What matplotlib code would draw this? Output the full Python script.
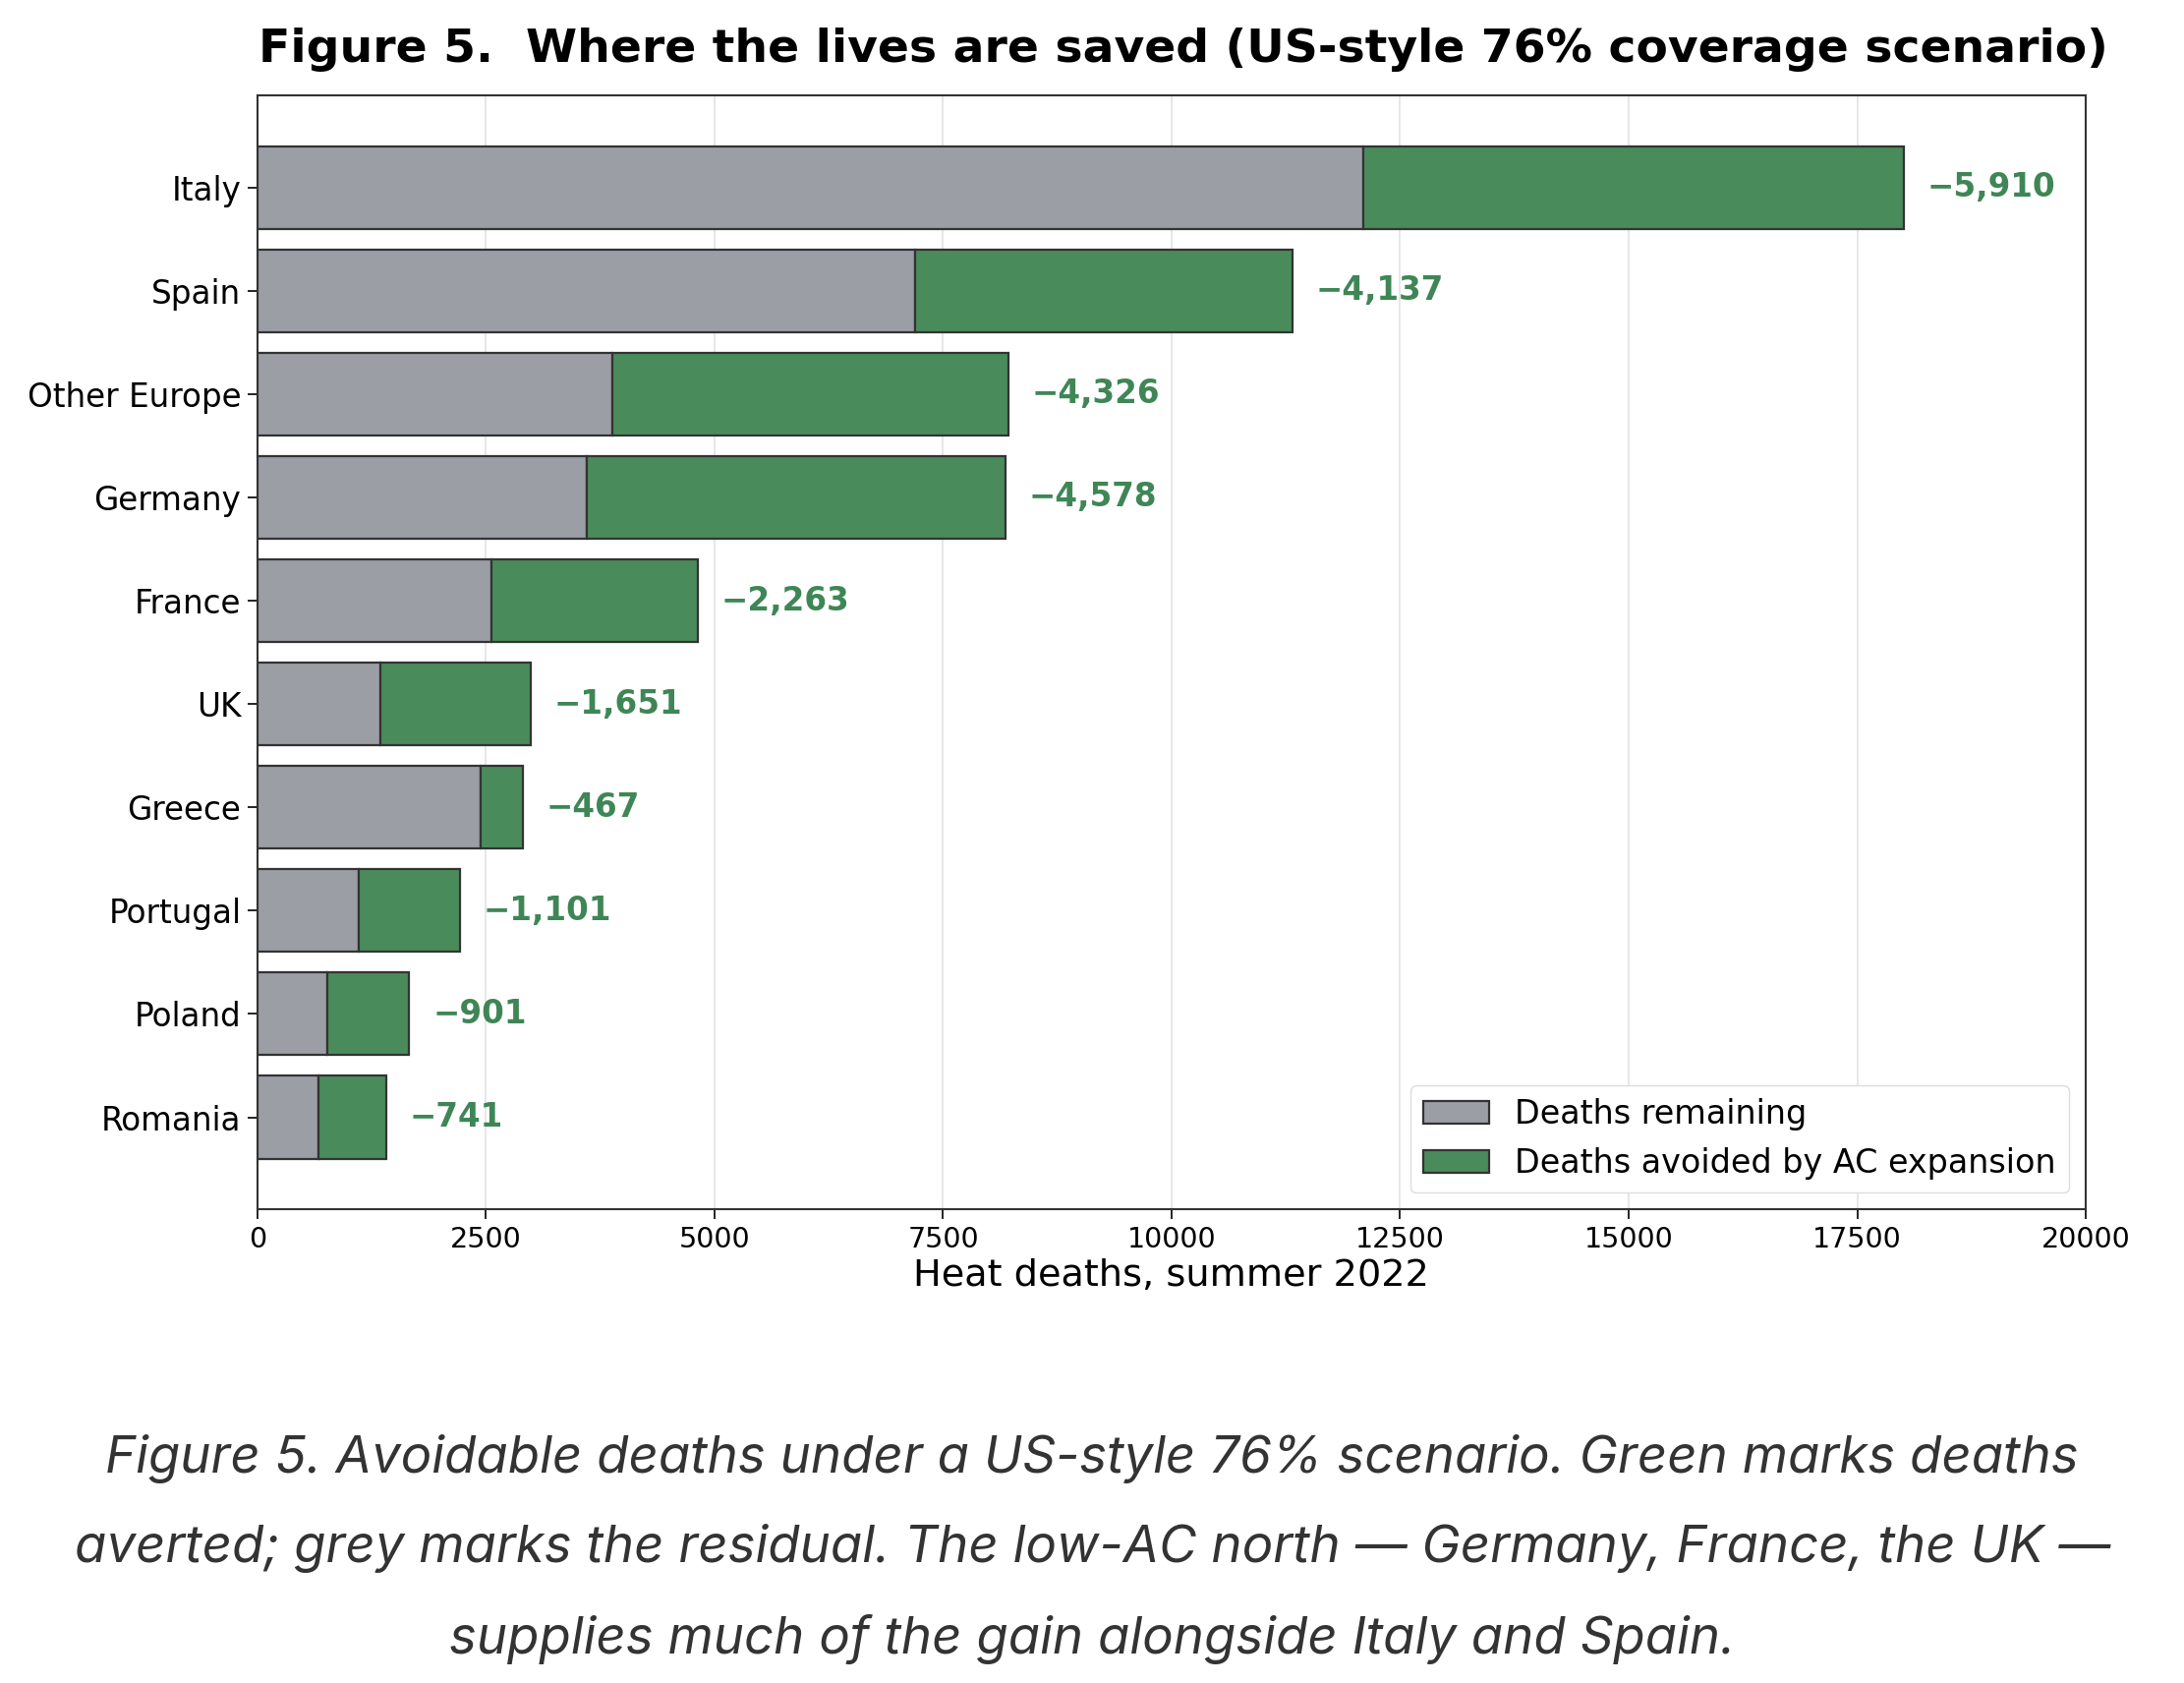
import matplotlib
matplotlib.use("Agg")
import matplotlib.pyplot as plt
from matplotlib import font_manager

countries = ["Italy", "Spain", "Other Europe", "Germany", "France",
             "UK", "Greece", "Portugal", "Poland", "Romania"]
remaining = [12100, 7190, 3885, 3600, 2555, 1340, 2440, 1110, 760, 670]
avoided = [5910, 4137, 4326, 4578, 2263, 1651, 467, 1101, 901, 741]

grey = "#9c9ea5"
green = "#4a8b5c"
label_green = "#3f8656"

caption = ("Figure 5. Avoidable deaths under a US-style 76% scenario. Green marks deaths\n"
           "averted; grey marks the residual. The low-AC north \u2014 Germany, France, the UK \u2014\n"
           "supplies much of the gain alongside Italy and Spain.")

# pick an italic sans for the caption
cap_family = "DejaVu Sans"
for fam in ["Inter", "Lato", "Open Sans", "Roboto", "Noto Sans"]:
    try:
        fp = font_manager.FontProperties(family=fam, style="italic")
        path = font_manager.findfont(fp, fallback_to_default=False)
        if "italic" in path.lower() or "-it" in path.lower():
            cap_family = fam
            break
    except Exception:
        pass

fig = plt.figure(figsize=(22.22, 17.12), dpi=100)
ax = fig.add_axes([0.1179, 0.2815, 0.8371, 0.6618])

y = range(len(countries))
ax.barh(y, remaining, height=0.8, color=grey, edgecolor="#333333",
        linewidth=1.6, label="Deaths remaining", zorder=3)
ax.barh(y, avoided, left=remaining, height=0.8, color=green, edgecolor="#333333",
        linewidth=1.6, label="Deaths avoided by AC expansion", zorder=3)

for i in y:
    total = remaining[i] + avoided[i]
    ax.annotate("\u2212{:,}".format(avoided[i]), (total, i), xytext=(17, 0),
                textcoords="offset points", va="center", ha="left",
                fontsize=23.5, fontweight="bold", color=label_green)

ax.set_yticks(list(y))
ax.set_yticklabels(countries, fontsize=23.5)
ax.invert_yaxis()
ax.set_xlim(0, 20000)
ax.set_xticks(range(0, 20001, 2500))
ax.tick_params(axis="x", labelsize=20.5, length=7, width=1.2, pad=5)
ax.tick_params(axis="y", length=7, width=1.2, pad=5)
ax.xaxis.grid(True, color="#e3e3e3", linewidth=1.2, zorder=0)
ax.set_axisbelow(True)
for s in ax.spines.values():
    s.set_color("#333333")
    s.set_linewidth(1.5)

ax.set_xlabel("Heat deaths, summer 2022", fontsize=27.5, labelpad=4)
ax.legend(loc="lower right", fontsize=24, framealpha=1, edgecolor="#dddddd")

fig.text(0.542, 0.9632, "Figure 5.  Where the lives are saved (US-style 76% coverage scenario)",
         ha="center", va="baseline", fontsize=34, fontweight="bold")

fig.text(0.5, 0.0794, caption, ha="center", va="center", fontsize=38,
         family=cap_family, style="italic", color="#333333", linespacing=2.05)

fig.savefig("out.png", dpi=100, facecolor="white")
plt.close(fig)
